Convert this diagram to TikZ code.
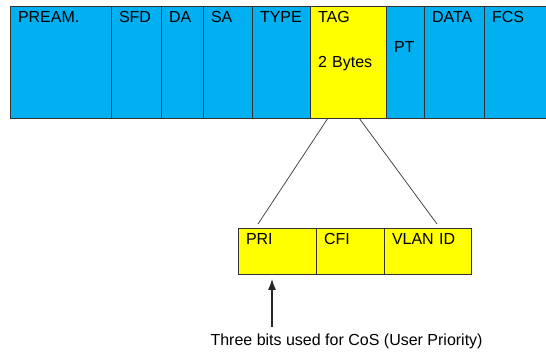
\documentclass[tikz,border=0pt]{standalone}
\usepackage{fontspec}
\setmainfont{Liberation Sans}
\usetikzlibrary{positioning,arrows.meta}
\definecolor{frameblue}{HTML}{00B0F0}
\definecolor{tagyellow}{HTML}{FFFF00}

\begin{document}
\begin{tikzpicture}[x=1pt,y=-1pt,font=\fontsize{16}{19}\selectfont,
    field/.style={rectangle,draw=black!80,line width=0.75pt,fill=frameblue,
      outer sep=0pt,inner xsep=8pt,inner ysep=5pt,align=left,
      text width=#1,text height=12pt,text depth=90pt},
    subfield/.style={field=#1,fill=tagyellow,text depth=24pt},
    link/.style={draw=black!75,line width=0.75pt},
    cosarrow/.style={-{Latex[length=11pt,width=8pt]},line width=1.2pt,draw=black!85}]

  \useasboundingbox (0,0) rectangle (546,352);

  % the frame
  \node[field=85pt,anchor=north west] (pream) at (10,6) {PREAM.};
  \node[field=34pt] (sfd)  [right=0pt of pream] {SFD};
  \node[field=26pt] (da)   [right=0pt of sfd]   {DA};
  \node[field=33pt] (sa)   [right=0pt of da]    {SA};
  \node[field=42pt] (type) [right=0pt of sa]    {TYPE};
  \node[field=60pt,fill=tagyellow] (tag) [right=0pt of type] {TAG\\[26pt]2 Bytes};
  \node[field=22pt,text height=42pt,text depth=60pt] (pt) [right=0pt of tag] {PT};
  \node[field=44pt] (data) [right=0pt of pt]    {DATA};
  \node[field=48pt] (fcs)  [right=0pt of data]  {FCS};

  % the tag fields
  \node[subfield=62pt,anchor=north west] (pri) at (238,228) {PRI};
  \node[subfield=52pt] (cfi)  [right=0pt of pri] {CFI};
  \node[subfield=71pt] (vlan) [right=0pt of cfi] {VLAN ID};

  \draw[link] ([xshift=18pt]tag.south west) -- ([xshift=20pt,yshift=4pt]pri.north west);
  \draw[link] ([xshift=49pt]tag.south west) -- ([xshift=53pt,yshift=4pt]vlan.north west);

  \node[anchor=base west] (cosnote) at (207,345) {Three bits used for CoS (User Priority)};
  \draw[cosarrow] ([xshift=65pt,yshift=3pt]cosnote.north west) -- ([xshift=34pt,yshift=-5pt]pri.south west);
\end{tikzpicture}
\end{document}
